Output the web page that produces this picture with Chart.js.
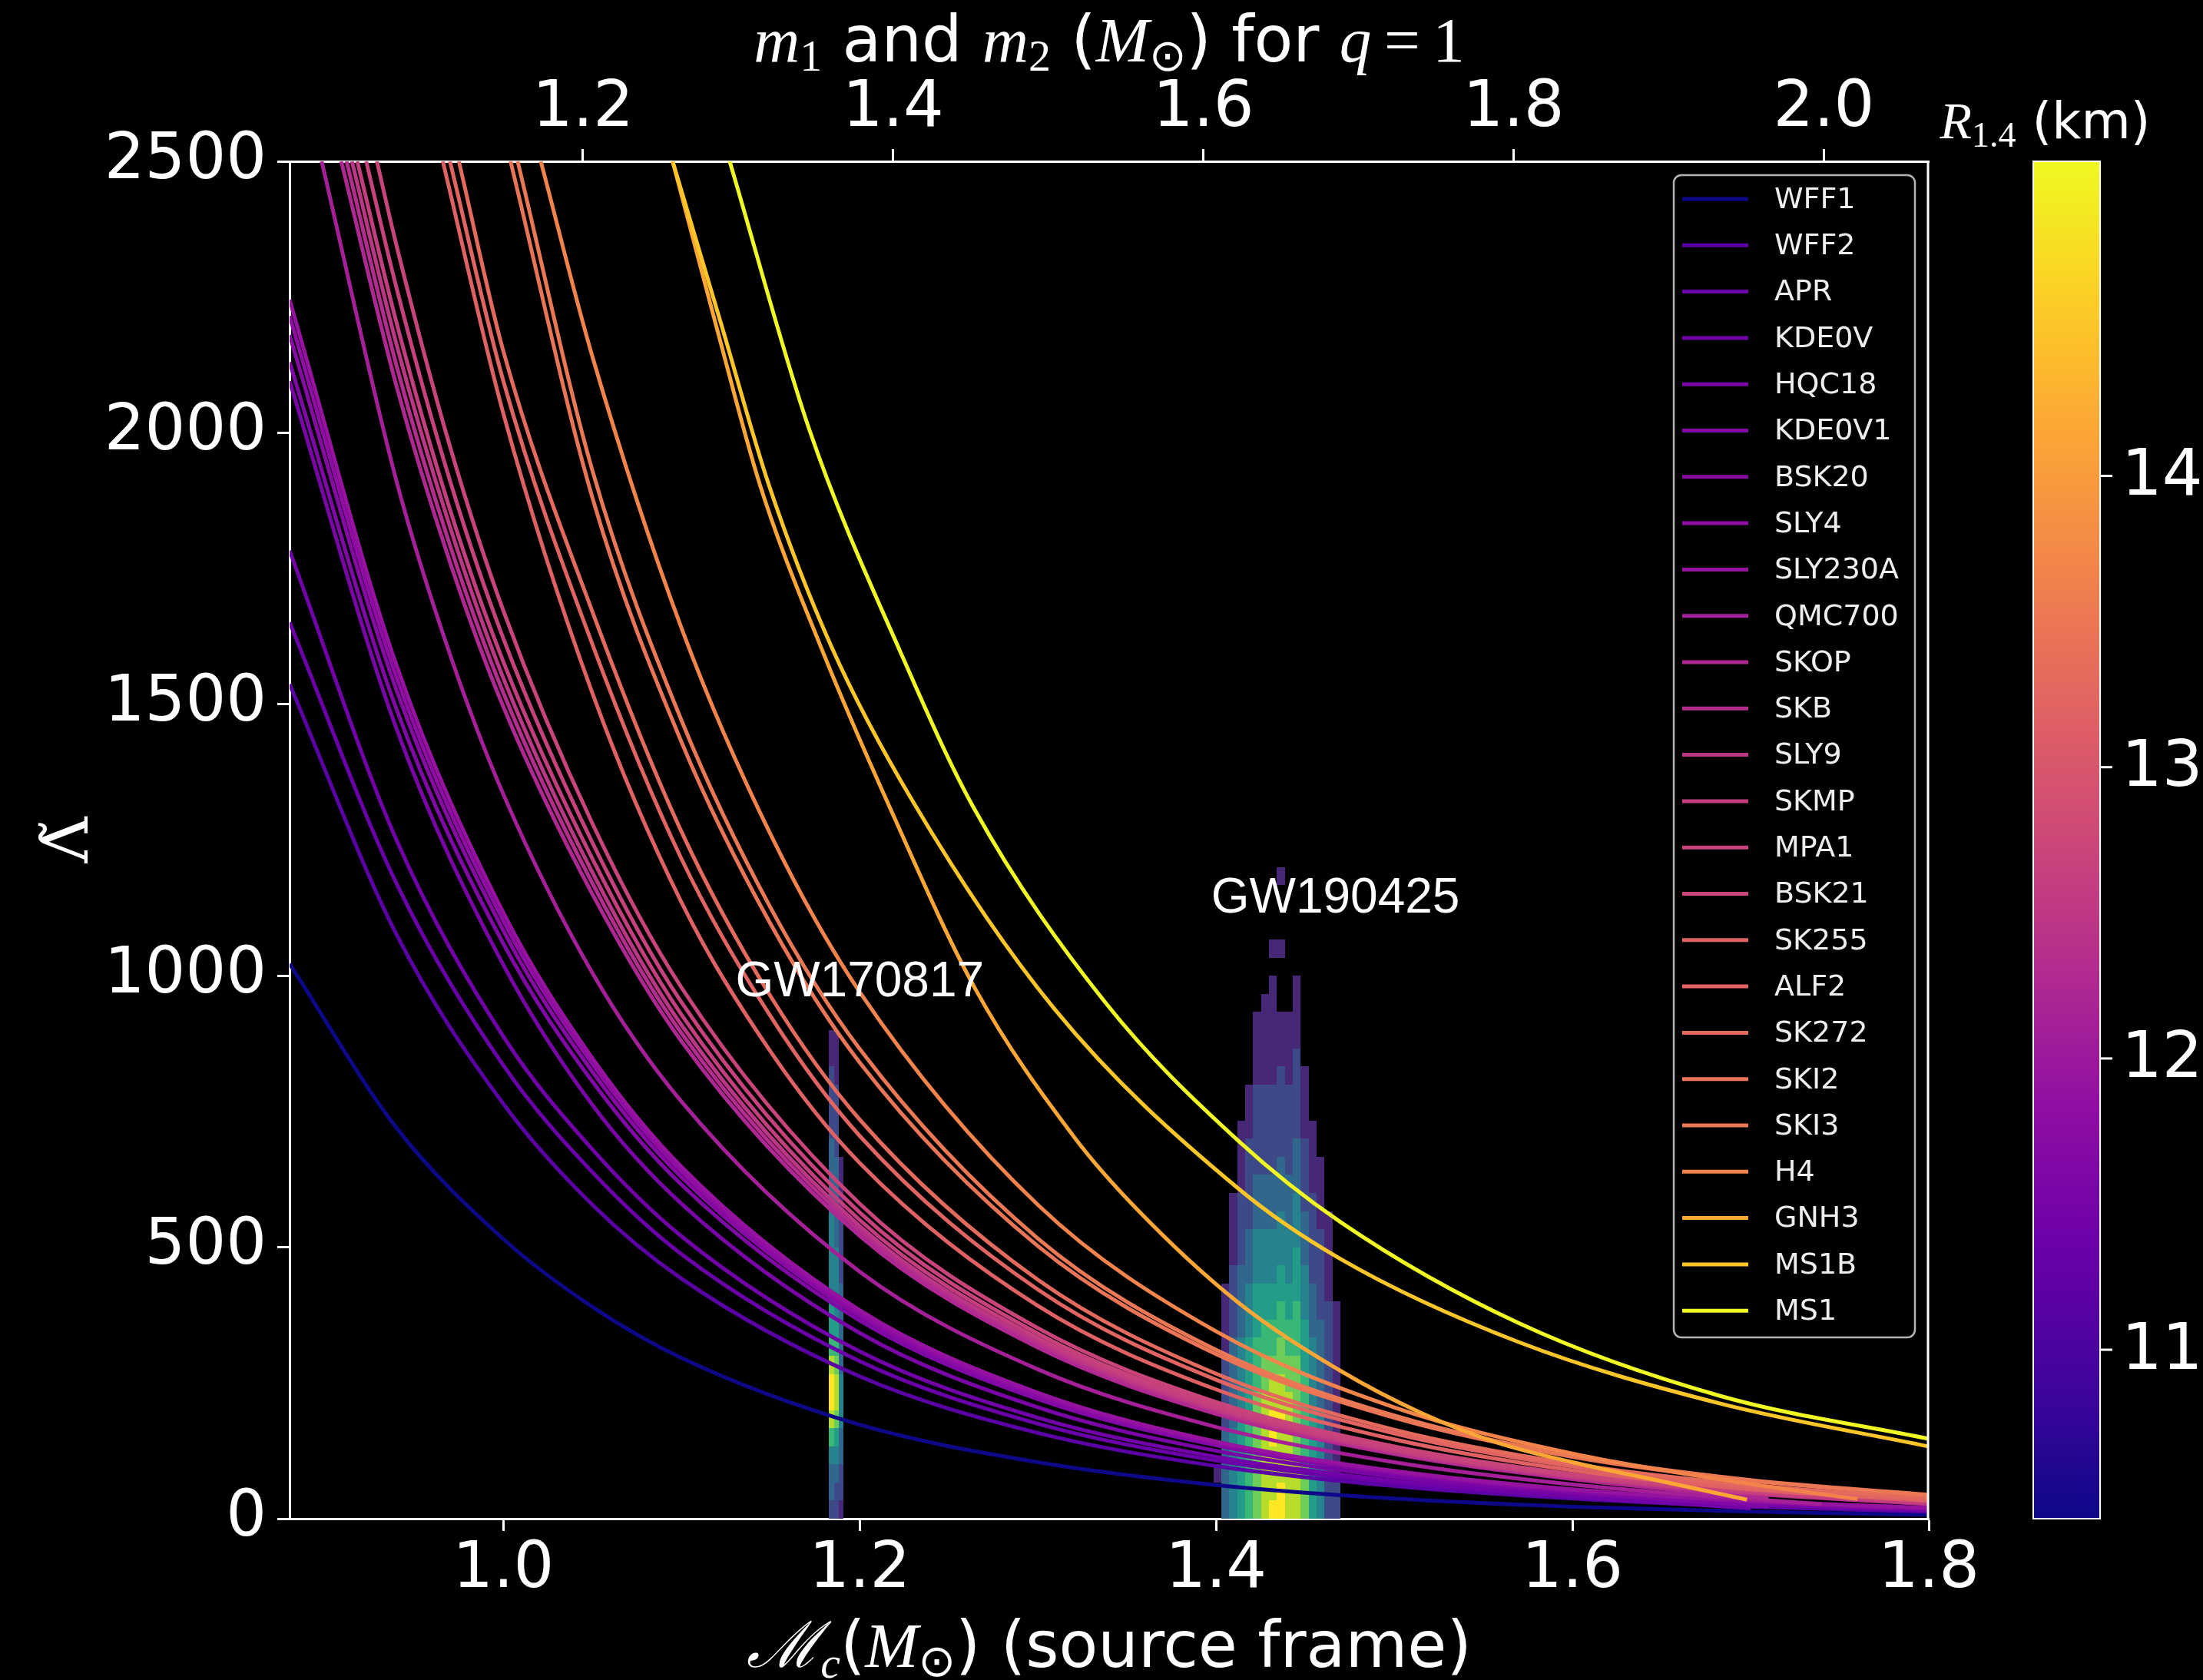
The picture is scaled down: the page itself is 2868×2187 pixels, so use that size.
<!DOCTYPE html>
<html>
<head>
<meta charset="utf-8">
<script src="https://cdn.jsdelivr.net/npm/chart.js@4.4.1/dist/chart.umd.min.js"></script>
<style>
  html, body { margin: 0; padding: 0; background: #000; }
  canvas { display: block; }
</style>
</head>
<body>
<canvas id="chart" width="2868" height="2187" style="width:2868px;height:2187px"></canvas>
<script>
// ---------------------------------------------------------------------------
// Binary Love: tidal deformability Λ̃ versus source-frame chirp mass (q = 1)
// for a set of nuclear equations of state, coloured by the radius R1.4.
// ---------------------------------------------------------------------------

const EOS_NAMES = ['WFF1', 'WFF2', 'APR', 'KDE0V', 'HQC18', 'KDE0V1', 'BSK20', 'SLY4', 'SLY230A',
  'QMC700', 'SKOP', 'SKB', 'SLY9', 'SKMP', 'MPA1', 'BSK21', 'SK255', 'ALF2', 'SK272', 'SKI2',
  'SKI3', 'H4', 'GNH3', 'MS1B', 'MS1'];

// Radius of a 1.4 Msun star for each EOS (km)
const R14_KM = [10.42, 11.17, 11.35, 11.44, 11.54, 11.63, 11.72, 11.82, 11.91,
  12.10, 12.24, 12.33, 12.47, 12.61, 12.66, 12.70, 13.17, 13.22, 13.31, 13.45,
  13.50, 13.68, 14.15, 14.52, 15.08];

// [chirp mass (Msun), Λ̃] samples along each curve
const LAMBDA_WFF1 = [[0.88, 1022], [0.94, 720], [1.0, 515], [1.05, 390], [1.1, 296], [1.2, 173], [1.3, 104], [1.4, 62], [1.5, 37], [1.6, 22], [1.7, 13], [1.8, 7]];
const LAMBDA_WFF2 = [[0.88, 1537], [0.94, 1076], [1.0, 764], [1.05, 578], [1.1, 442], [1.2, 262], [1.3, 158], [1.4, 97], [1.5, 60], [1.6, 37], [1.7, 22], [1.8, 13]];
const LAMBDA_APR = [[0.88, 1651], [0.94, 1170], [1.0, 835], [1.05, 638], [1.1, 487], [1.2, 290], [1.3, 175], [1.4, 107], [1.5, 66], [1.6, 41], [1.7, 25], [1.8, 15]];
const LAMBDA_KDE0V = [[0.88, 1783], [0.94, 1250], [1.0, 888], [1.05, 680], [1.1, 520], [1.2, 308], [1.3, 186], [1.4, 114], [1.5, 70], [1.6, 41], [1.7, 19]];
const LAMBDA_HQC18 = [[0.88, 2095], [0.94, 1455], [1.0, 1020], [1.05, 762], [1.1, 580], [1.2, 342], [1.3, 205], [1.4, 125], [1.5, 77], [1.6, 47], [1.7, 28], [1.8, 16]];
const LAMBDA_KDE0V1 = [[0.88, 2130], [0.94, 1491], [1.0, 1059], [1.05, 805], [1.1, 615], [1.2, 365], [1.3, 220], [1.4, 135], [1.5, 83], [1.6, 49], [1.71, 22]];
const LAMBDA_BSK20 = [[0.88, 2180], [0.94, 1526], [1.0, 1083], [1.05, 823], [1.1, 629], [1.2, 373], [1.3, 225], [1.4, 138], [1.5, 85], [1.6, 52], [1.7, 32], [1.8, 19]];
const LAMBDA_SLY4 = [[0.88, 2215], [0.94, 1550], [1.0, 1101], [1.05, 837], [1.1, 639], [1.2, 379], [1.3, 229], [1.4, 140], [1.5, 86], [1.6, 53], [1.7, 32], [1.78, 20]];
const LAMBDA_SLY230A = [[0.88, 2245], [0.94, 1572], [1.0, 1116], [1.05, 848], [1.1, 648], [1.2, 384], [1.3, 232], [1.4, 142], [1.5, 88], [1.6, 54], [1.7, 33], [1.8, 20]];
const LAMBDA_QMC700 = [[0.898, 2500], [0.94, 1911], [0.97, 1592], [1.0, 1334], [1.05, 1005], [1.1, 768], [1.2, 455], [1.3, 275], [1.4, 169], [1.5, 104], [1.6, 63], [1.7, 36], [1.74, 27]];
const LAMBDA_SKOP = [[0.909, 2500], [0.94, 2086], [0.97, 1762], [1.0, 1495], [1.05, 1150], [1.1, 879], [1.2, 521], [1.3, 315], [1.4, 193], [1.5, 119], [1.6, 73], [1.71, 37]];
const LAMBDA_SKB = [[0.912, 2500], [0.94, 2124], [0.97, 1793], [1.0, 1521], [1.05, 1170], [1.1, 894], [1.2, 530], [1.3, 321], [1.4, 197], [1.5, 121], [1.6, 75], [1.7, 46], [1.8, 27]];
const LAMBDA_SLY9 = [[0.915, 2500], [0.94, 2163], [0.97, 1827], [1.0, 1548], [1.05, 1190], [1.1, 909], [1.2, 539], [1.3, 326], [1.4, 200], [1.5, 123], [1.6, 76], [1.7, 47], [1.8, 28]];
const LAMBDA_SKMP = [[0.918, 2500], [0.94, 2203], [0.97, 1859], [1.0, 1578], [1.05, 1215], [1.1, 928], [1.2, 550], [1.3, 333], [1.4, 204], [1.5, 126], [1.6, 78], [1.7, 48], [1.8, 29]];
const LAMBDA_MPA1 = [[0.923, 2500], [0.94, 2267], [0.97, 1912], [1.0, 1621], [1.05, 1245], [1.1, 951], [1.2, 564], [1.3, 341], [1.4, 209], [1.5, 129], [1.6, 80], [1.7, 52], [1.8, 34]];
const LAMBDA_BSK21 = [[0.929, 2500], [0.94, 2345], [0.97, 1975], [1.0, 1672], [1.05, 1280], [1.1, 978], [1.2, 580], [1.3, 351], [1.4, 215], [1.5, 133], [1.6, 82], [1.7, 51], [1.8, 32]];
const LAMBDA_SK255 = [[0.966, 2500], [1.0, 2035], [1.05, 1520], [1.1, 1135], [1.15, 860], [1.2, 655], [1.3, 392], [1.4, 238], [1.5, 146], [1.6, 89], [1.7, 54], [1.8, 33]];
const LAMBDA_ALF2 = [[0.970, 2500], [1.0, 2095], [1.05, 1610], [1.1, 1215], [1.15, 925], [1.2, 705], [1.3, 422], [1.4, 256], [1.5, 157], [1.6, 96], [1.7, 58], [1.8, 35]];
const LAMBDA_SK272 = [[0.975, 2500], [1.0, 2150], [1.05, 1670], [1.1, 1265], [1.15, 962], [1.2, 735], [1.3, 440], [1.4, 267], [1.5, 164], [1.6, 101], [1.7, 62], [1.8, 38]];
const LAMBDA_SKI2 = [[1.004, 2500], [1.05, 1880], [1.1, 1430], [1.15, 1095], [1.2, 840], [1.3, 502], [1.4, 303], [1.5, 186], [1.6, 114], [1.7, 70], [1.8, 43]];
const LAMBDA_SKI3 = [[1.008, 2500], [1.05, 1930], [1.1, 1470], [1.15, 1125], [1.2, 865], [1.3, 516], [1.4, 311], [1.5, 190], [1.6, 116], [1.7, 71], [1.8, 44]];
const LAMBDA_H4 = [[1.021, 2500], [1.05, 2140], [1.1, 1640], [1.15, 1260], [1.2, 970], [1.3, 578], [1.4, 345], [1.5, 205], [1.6, 120], [1.7, 64], [1.76, 36]];
const LAMBDA_GNH3 = [[1.095, 2500], [1.12, 2190], [1.144, 1904], [1.178, 1607], [1.217, 1309], [1.265, 975], [1.321, 700], [1.355, 572], [1.4125, 398], [1.47, 272], [1.515, 195], [1.558, 140], [1.6, 104], [1.65, 69], [1.698, 35]];
const LAMBDA_MS1B = [[1.095, 2500], [1.122, 2203], [1.149, 1904], [1.184, 1607], [1.23, 1320], [1.309, 940], [1.4125, 608], [1.47, 478], [1.57, 325], [1.683, 212], [1.8, 133]];
const LAMBDA_MS1 = [[1.127, 2500], [1.172, 2003], [1.223, 1595], [1.264, 1309], [1.338, 950], [1.4125, 696], [1.47, 546], [1.57, 360], [1.683, 226], [1.8, 147]];

const EOS_CURVES = [LAMBDA_WFF1, LAMBDA_WFF2, LAMBDA_APR, LAMBDA_KDE0V, LAMBDA_HQC18, LAMBDA_KDE0V1,
  LAMBDA_BSK20, LAMBDA_SLY4, LAMBDA_SLY230A, LAMBDA_QMC700, LAMBDA_SKOP, LAMBDA_SKB, LAMBDA_SLY9,
  LAMBDA_SKMP, LAMBDA_MPA1, LAMBDA_BSK21, LAMBDA_SK255, LAMBDA_ALF2, LAMBDA_SK272, LAMBDA_SKI2,
  LAMBDA_SKI3, LAMBDA_H4, LAMBDA_GNH3, LAMBDA_MS1B, LAMBDA_MS1];

// Axis ticks
const X_TICKS = [1.0, 1.2, 1.4, 1.6, 1.8];          // chirp mass
const M_TICKS = [1.2, 1.4, 1.6, 1.8, 2.0];          // component mass for q = 1
const Y_TICKS = [0, 500, 1000, 1500, 2000, 2500];
const CB_TICKS = [11, 12, 13, 14];
const M_PER_MC = Math.pow(2, 0.2);                   // m1 = m2 = Mc * 2^(1/5)

// Posterior histograms (Mc, Λ̃): one string per Mc bin, one digit per Λ̃ bin
// from the bottom up (0 = empty, 1..9 = relative density)
const LAMBDA_BIN = 33.33;
const GW170817_MC0 = 1.1828;
const GW170817_DMC = 0.0027;
const GW170817_COLUMNS = [
  '233468998655444443333222211',
  '223457887654444333332222111',
  '12233444333332222111'
];
const GW190425_MC0 = 1.3985;
const GW190425_DMC = 0.00445;
const GW190425_COLUMNS = [
  '001',
  '3333322221111',
  '444443333322221111',
  '5555554444333322221111',
  '666666555544433322222111',
  '7777777666555444333222221111',
  '88888887766554443332222211111',
  '98889988766554443332222211111101',
  '998889887766554443332222211100010001',
  '8888888776655444333222221111',
  '888777777666555444333222221111',
  '7776666655544433322221111',
  '5555554444333222221111',
  '44444433333222221111',
  '22222222222211111',
  '221111111111'
];

const EVENT_NAMES = ['GW170817', 'GW190425'];
const EVENT_LABEL_MC = [1.2, 1.467];
const EVENT_LABEL_LAMBDA = [962, 1116];

// ---------------------------------------------------------------------------
// Colour maps
// ---------------------------------------------------------------------------
const PLASMA = ['#0d0887', '#41049d', '#6a00a8', '#8f0da4', '#b12a90', '#cc4778',
  '#e16462', '#f2844b', '#fca636', '#fcce25', '#f0f921'];
const VIRIDIS = ['#440154', '#482475', '#414487', '#355f8d', '#2a788e', '#21918c',
  '#22a884', '#44bf70', '#7ad151', '#bddf26', '#fde725'];

function hexToRgb(h) {
  return [parseInt(h.slice(1, 3), 16), parseInt(h.slice(3, 5), 16), parseInt(h.slice(5, 7), 16)];
}
function sampleMap(stops, t) {
  t = Math.min(1, Math.max(0, t));
  const p = t * (stops.length - 1);
  const i = Math.min(stops.length - 2, Math.floor(p));
  const f = p - i;
  const a = hexToRgb(stops[i]), b = hexToRgb(stops[i + 1]);
  const c = a.map((v, k) => Math.round(v + (b[k] - v) * f));
  return `rgb(${c[0]},${c[1]},${c[2]})`;
}

const CB_MIN = Math.min(...R14_KM);
const CB_MAX = Math.max(...R14_KM);
const radiusColor = r => sampleMap(PLASMA, (r - CB_MIN) / (CB_MAX - CB_MIN));

// ---------------------------------------------------------------------------
// Datasets
// ---------------------------------------------------------------------------
const datasets = EOS_NAMES.map((name, i) => ({
  label: name,
  data: EOS_CURVES[i].map(([mc, lam]) => ({ x: mc, y: lam })),
  borderColor: radiusColor(R14_KM[i]),
  backgroundColor: radiusColor(R14_KM[i]),
  borderWidth: 5,
  pointRadius: 0,
  pointHoverRadius: 0,
  fill: false,
  cubicInterpolationMode: 'monotone',
  // stiffer EOS drawn over softer ones
  order: EOS_NAMES.length - 1 - i
}));

// ---------------------------------------------------------------------------
// Plugins
// ---------------------------------------------------------------------------
const FONT_SANS = '"DejaVu Sans"';
const FONT_SERIF = '"Liberation Serif"';

function drawRich(ctx, segments, cx, baseline) {
  let total = 0;
  segments.forEach(s => { ctx.font = s.font; s.w = ctx.measureText(s.text).width; total += s.w; });
  let x = cx - total / 2;
  ctx.textAlign = 'left';
  ctx.textBaseline = 'alphabetic';
  segments.forEach(s => {
    ctx.font = s.font;
    ctx.fillText(s.text, x, baseline + (s.dy || 0));
    x += s.w;
  });
}

const posteriorCells = {
  id: 'posteriorCells',
  beforeDatasetsDraw(chart) {
    const { ctx, chartArea, scales: { x, y } } = chart;
    ctx.save();
    ctx.beginPath();
    ctx.rect(chartArea.left, chartArea.top, chartArea.right - chartArea.left, chartArea.bottom - chartArea.top);
    ctx.clip();
    const drawColumns = (columns, mc0, dmc) => {
      columns.forEach((col, i) => {
        const xl = Math.round(x.getPixelForValue(mc0 + i * dmc));
        const xr = Math.round(x.getPixelForValue(mc0 + (i + 1) * dmc));
        for (let b = 0; b < col.length; b++) {
          const v = Number(col[b]);
          if (!v) continue;
          const yb = Math.round(y.getPixelForValue(b * LAMBDA_BIN));
          const yt = Math.round(y.getPixelForValue((b + 1) * LAMBDA_BIN));
          ctx.fillStyle = sampleMap(VIRIDIS, v / 9);
          ctx.fillRect(xl, yt, xr - xl, yb - yt);
        }
      });
    };
    drawColumns(GW170817_COLUMNS, GW170817_MC0, GW170817_DMC);
    drawColumns(GW190425_COLUMNS, GW190425_MC0, GW190425_DMC);
    ctx.restore();
  }
};

const decorations = {
  id: 'decorations',
  afterDraw(chart) {
    const { ctx, chartArea, scales: { x, y, cb } } = chart;
    ctx.save();

    // right spine
    ctx.strokeStyle = '#ffffff';
    ctx.lineWidth = 3;
    ctx.beginPath();
    ctx.moveTo(chartArea.right - 1, chartArea.top);
    ctx.lineTo(chartArea.right - 1, chartArea.bottom);
    ctx.stroke();

    // event labels
    ctx.fillStyle = '#ffffff';
    ctx.font = `64px "Liberation Sans"`;
    ctx.textAlign = 'center';
    ctx.textBaseline = 'alphabetic';
    EVENT_NAMES.forEach((name, i) => {
      ctx.fillText(name, x.getPixelForValue(EVENT_LABEL_MC[i]), y.getPixelForValue(EVENT_LABEL_LAMBDA[i]));
    });

    // legend
    const lw = 314, lh = 1513;
    const lx = chartArea.right - 18 - lw, ly = chartArea.top + 18;
    ctx.beginPath();
    ctx.roundRect(lx, ly, lw, lh, 10);
    ctx.fillStyle = 'rgba(0,0,0,0.8)';
    ctx.fill();
    ctx.strokeStyle = 'rgba(210,210,210,0.85)';
    ctx.lineWidth = 2.5;
    ctx.stroke();
    ctx.font = `38px ${FONT_SANS}`;
    ctx.textAlign = 'left';
    ctx.textBaseline = 'middle';
    chart.data.datasets.forEach((ds, i) => {
      const ry = ly + 31 + i * 60.3;
      ctx.strokeStyle = ds.borderColor;
      ctx.lineWidth = 5;
      ctx.beginPath();
      ctx.moveTo(lx + 11, ry);
      ctx.lineTo(lx + 97, ry);
      ctx.stroke();
      ctx.fillStyle = '#eeeeee';
      ctx.fillText(ds.label, lx + 131, ry + 2);
    });

    // colour bar
    const cbLeft = chartArea.right + 136, cbWidth = 87;
    const cbTop = cb.getPixelForValue(CB_MAX), cbBottom = cb.getPixelForValue(CB_MIN);
    const grad = ctx.createLinearGradient(0, cbBottom, 0, cbTop);
    PLASMA.forEach((c, i) => grad.addColorStop(i / (PLASMA.length - 1), c));
    ctx.fillStyle = grad;
    ctx.fillRect(cbLeft, cbTop, cbWidth, cbBottom - cbTop);
    ctx.strokeStyle = '#ffffff';
    ctx.lineWidth = 2;
    ctx.strokeRect(cbLeft, cbTop, cbWidth, cbBottom - cbTop);
    ctx.lineWidth = 3;
    ctx.fillStyle = '#ffffff';
    ctx.font = `83px ${FONT_SANS}`;
    ctx.textAlign = 'left';
    ctx.textBaseline = 'middle';
    CB_TICKS.forEach(v => {
      const ty = cb.getPixelForValue(v);
      ctx.beginPath();
      ctx.moveTo(cbLeft + cbWidth, ty);
      ctx.lineTo(cbLeft + cbWidth + 16, ty);
      ctx.stroke();
      ctx.fillText(String(v), cbLeft + cbWidth + 28, ty + 3);
    });

    // titles
    ctx.fillStyle = '#ffffff';
    const big = 83, sub = 58;
    const cx = (chartArea.left + chartArea.right) / 2;
    drawRich(ctx, [
      { text: 'm', font: `italic ${big}px ${FONT_SERIF}` },
      { text: '1', font: `${sub}px ${FONT_SERIF}`, dy: 12 },
      { text: ' and ', font: `${big}px ${FONT_SANS}` },
      { text: 'm', font: `italic ${big}px ${FONT_SERIF}` },
      { text: '2', font: `${sub}px ${FONT_SERIF}`, dy: 12 },
      { text: ' (', font: `${big}px ${FONT_SANS}` },
      { text: 'M', font: `italic ${big}px ${FONT_SERIF}` },
      { text: '\u2299', font: `${sub}px ${FONT_SANS}`, dy: 12 },
      { text: ')', font: `${big}px ${FONT_SANS}` },
      { text: ' for ', font: `${big}px ${FONT_SANS}` },
      { text: 'q', font: `italic ${big}px ${FONT_SERIF}` },
      { text: '\u2009=\u2009', font: `${big}px ${FONT_SERIF}` },
      { text: '1', font: `${big}px ${FONT_SERIF}` }
    ], cx, 80);

    drawRich(ctx, [
      { text: '\u2133', font: `italic ${big}px ${FONT_SERIF}` },
      { text: 'c', font: `italic ${sub}px ${FONT_SERIF}`, dy: 14 },
      { text: '(', font: `${big}px ${FONT_SANS}` },
      { text: 'M', font: `italic ${big}px ${FONT_SERIF}` },
      { text: '\u2299', font: `${sub}px ${FONT_SANS}`, dy: 12 },
      { text: ')', font: `${big}px ${FONT_SANS}` },
      { text: ' (source frame)', font: `${big}px ${FONT_SANS}` }
    ], cx, 2170);

    // colour-bar title
    drawRich(ctx, [
      { text: 'R', font: `italic 68px ${FONT_SERIF}` },
      { text: '1.4', font: `46px ${FONT_SERIF}`, dy: 11 },
      { text: ' (km)', font: `66px ${FONT_SANS}` }
    ], cbLeft + cbWidth / 2 - 28, 180);

    // y-axis title, rotated
    ctx.save();
    ctx.translate(114, (chartArea.top + chartArea.bottom) / 2);
    ctx.rotate(-Math.PI / 2);
    ctx.font = `${big}px "DejaVu Serif"`;
    ctx.textAlign = 'center';
    ctx.textBaseline = 'alphabetic';
    ctx.fillText('\u039B\u0303', 0, 0);
    ctx.restore();

    ctx.restore();
  }
};

// ---------------------------------------------------------------------------
// Chart
// ---------------------------------------------------------------------------
Chart.defaults.font.family = FONT_SANS;
Chart.defaults.color = '#ffffff';

const tickFont = { family: FONT_SANS, size: 83 };
const axisGrid = { drawOnChartArea: false, color: '#ffffff', tickLength: 16, tickWidth: 3 };
const axisBorder = { color: '#ffffff', width: 3 };

new Chart(document.getElementById('chart').getContext('2d'), {
  type: 'line',
  data: { datasets },
  options: {
    responsive: false,
    devicePixelRatio: 1,
    animation: false,
    layout: { padding: { left: 0, right: 357, top: 0, bottom: 0 } },
    plugins: { legend: { display: false }, tooltip: { enabled: false } },
    scales: {
      x: {
        type: 'linear', position: 'bottom', min: 0.88, max: 1.8,
        afterBuildTicks: s => { s.ticks = X_TICKS.map(v => ({ value: v })); },
        afterFit: s => { s.height = 210; },
        ticks: { color: '#ffffff', font: tickFont, padding: 2, maxRotation: 0, autoSkip: false,
          callback: v => v.toFixed(1) },
        grid: axisGrid, border: axisBorder
      },
      x2: {
        type: 'linear', position: 'top', min: 0.88 * M_PER_MC, max: 1.8 * M_PER_MC,
        afterBuildTicks: s => { s.ticks = M_TICKS.map(v => ({ value: v })); },
        afterFit: s => { s.height = 210; },
        ticks: { color: '#ffffff', font: tickFont, padding: 2, maxRotation: 0, autoSkip: false,
          callback: v => v.toFixed(1) },
        grid: axisGrid, border: axisBorder
      },
      y: {
        type: 'linear', position: 'left', min: 0, max: 2500,
        afterBuildTicks: s => { s.ticks = Y_TICKS.map(v => ({ value: v })); },
        afterFit: s => { s.width = 377; },
        ticks: { color: '#ffffff', font: tickFont, padding: 14, autoSkip: false,
          callback: v => String(v) },
        grid: axisGrid, border: axisBorder
      },
      cb: { type: 'linear', position: 'right', display: false, min: CB_MIN, max: CB_MAX }
    }
  },
  plugins: [posteriorCells, decorations]
});
</script>
</body>
</html>
